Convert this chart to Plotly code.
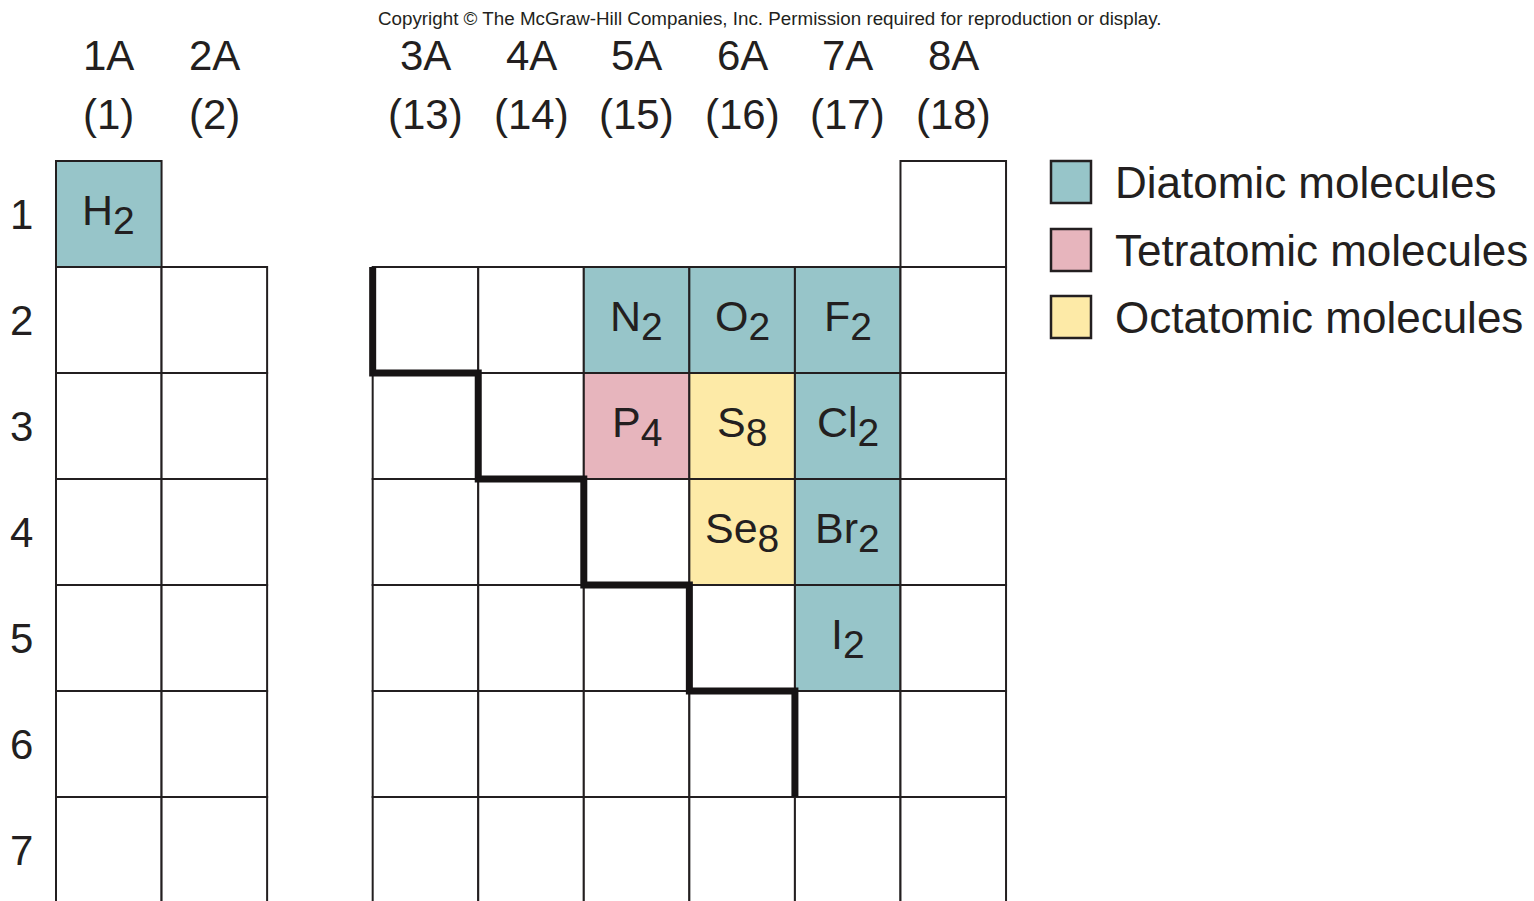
import plotly.graph_objects as go

# ---------------- data ----------------
group_labels = ["1A", "2A", "3A", "4A", "5A", "6A", "7A", "8A"]
group_numbers = ["(1)", "(2)", "(13)", "(14)", "(15)", "(16)", "(17)", "(18)"]
group_slots = [0, 1, 3, 4, 5, 6, 7, 8]          # horizontal slot of each group (gap for transition metals)
group_first_period = [1, 2, 2, 2, 2, 2, 2, 1]   # first period that has a cell in the group
periods = [1, 2, 3, 4, 5, 6, 7]

mol_symbols = ["H", "N", "O", "F", "P", "S", "Cl", "Se", "Br", "I"]
mol_subscripts = ["2", "2", "2", "2", "4", "8", "2", "8", "2", "2"]
mol_groups = ["1A", "5A", "6A", "7A", "5A", "6A", "7A", "6A", "7A", "7A"]
mol_periods = [1, 2, 2, 2, 3, 3, 3, 4, 4, 5]
mol_types = ["Diatomic", "Diatomic", "Diatomic", "Diatomic", "Tetratomic",
             "Octatomic", "Diatomic", "Octatomic", "Diatomic", "Diatomic"]

legend_types = ["Diatomic", "Tetratomic", "Octatomic"]
legend_labels = ["Diatomic molecules", "Tetratomic molecules", "Octatomic molecules"]

# metal / nonmetal staircase: group whose left edge the line follows, and the period of that step
stair_groups = ["3A", "4A", "5A", "6A", "7A"]
stair_periods = [2, 3, 4, 5, 6]

# ---------------- style ----------------
type_colors = {"Diatomic": "#97C5C9", "Tetratomic": "#E7B5BD", "Octatomic": "#FDEAA7"}
ink = "#231F20"
FONT = "Liberation Sans, Arial, Helvetica, sans-serif"

W, H = 1534, 901
X0, CW = 56.0, 105.56     # pixel left of first slot, cell width
Y0, CH = 161.0, 106.0     # pixel top of period 1, cell height
x_range = [(0 - X0) / CW, (W - X0) / CW]
y_range = [(H - Y0) / CH, (0 - Y0) / CH]


def px_x(p):
    return (p - X0) / CW


def px_y(p):
    return (p - Y0) / CH


slot_of = dict(zip(group_labels, group_slots))

fig = go.Figure()
shapes = []
annotations = []

# cells
mol_lookup = {(g, p): t for g, p, t in zip(mol_groups, mol_periods, mol_types)}
for g, s, first in zip(group_labels, group_slots, group_first_period):
    for p in periods:
        if p < first:
            continue
        fill = type_colors.get(mol_lookup.get((g, p)), "white")
        shapes.append(dict(type="rect", xref="x", yref="y",
                           x0=s, x1=s + 1, y0=p - 1, y1=p,
                           fillcolor=fill, line=dict(color=ink, width=2),
                           layer="below"))

# molecule labels
for sym, sub, g, p in zip(mol_symbols, mol_subscripts, mol_groups, mol_periods):
    s = slot_of[g]
    annotations.append(dict(
        x=s + 0.5, y=p - 0.5, xref="x", yref="y",
        text=f"{sym}<sub><span style='font-size:39px'>{sub}</span></sub>",
        showarrow=False, xanchor="center", yanchor="middle",
        font=dict(family=FONT, size=43, color=ink)))

# group headers
for lab, num, s in zip(group_labels, group_numbers, group_slots):
    annotations.append(dict(x=s + 0.5, y=px_y(55), xref="x", yref="y", text=lab,
                            showarrow=False, xanchor="center", yanchor="middle",
                            font=dict(family=FONT, size=42, color=ink)))
    annotations.append(dict(x=s + 0.5, y=px_y(114), xref="x", yref="y", text=num,
                            showarrow=False, xanchor="center", yanchor="middle",
                            font=dict(family=FONT, size=42, color=ink)))

# period labels
for p in periods:
    annotations.append(dict(x=px_x(21), y=p - 0.5, xref="x", yref="y", text=str(p),
                            showarrow=False, xanchor="center", yanchor="middle",
                            font=dict(family=FONT, size=42, color=ink)))

# staircase: vertical segment along each group's left edge, joined by horizontal steps
path_x, path_y = [], []
for g, p in zip(stair_groups, stair_periods):
    s = slot_of[g]
    path_x += [s, s]
    path_y += [p - 1, p]
fig.add_trace(go.Scatter(x=path_x, y=path_y, mode="lines",
                         line=dict(color="#161314", width=7, shape="linear"),
                         hoverinfo="skip"))

# legend (custom)
leg_box_top = [161, 229, 296]
for t, lab, top in zip(legend_types, legend_labels, leg_box_top):
    shapes.append(dict(type="rect", xref="x", yref="y",
                       x0=px_x(1051), x1=px_x(1091), y0=px_y(top), y1=px_y(top + 42),
                       fillcolor=type_colors[t], line=dict(color=ink, width=2.5)))
    annotations.append(dict(x=px_x(1113), y=px_y(top + 21), xref="x", yref="y", text=lab,
                            showarrow=False, xanchor="left", yanchor="middle",
                            font=dict(family=FONT, size=44, color=ink)))

# copyright line
annotations.append(dict(x=0.5015, y=px_y(18), xref="paper", yref="y",
                        text="Copyright © The McGraw-Hill Companies, Inc. Permission required for reproduction or display.",
                        showarrow=False, xanchor="center", yanchor="middle",
                        font=dict(family=FONT, size=18.8, color=ink)))

fig.update_layout(
    width=W, height=H, margin=dict(l=0, r=0, t=0, b=0),
    paper_bgcolor="white", plot_bgcolor="white", showlegend=False,
    xaxis=dict(range=x_range, visible=False, fixedrange=True),
    yaxis=dict(range=y_range, visible=False, fixedrange=True),
    shapes=shapes, annotations=annotations,
)

fig.write_html("out.html", config={"displayModeBar": False},
               post_script="document.body.style.margin='0';document.body.style.overflow='hidden';")
